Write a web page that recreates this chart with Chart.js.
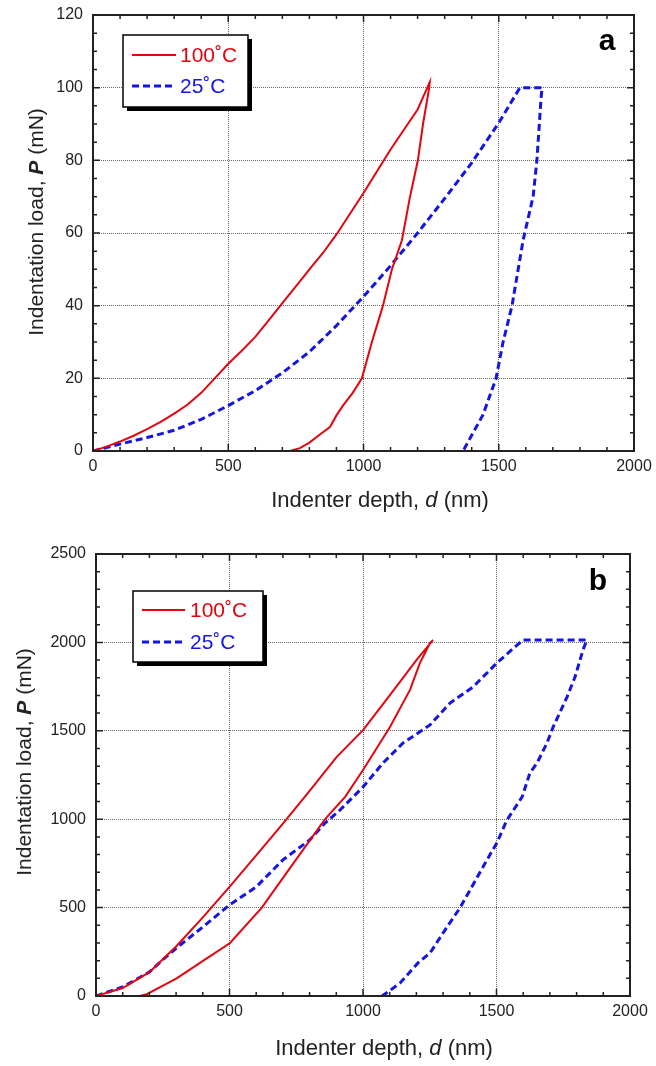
<!DOCTYPE html>
<html>
<head>
<meta charset="utf-8">
<script src="https://cdn.jsdelivr.net/npm/chart.js@4.4.0/dist/chart.umd.min.js"></script>
<style>
  body { margin: 0; background: #fff; }
  canvas { position: absolute; left: 0; }
</style>
</head>
<body>
<canvas id="chartA" width="656" height="520" style="top:0"></canvas>
<canvas id="chartB" width="656" height="546" style="top:520px"></canvas>
<script>
// panel a : depth (nm) and load (mN), loading then unloading
const depthA100 = [0, 50, 100, 150, 200, 250, 300, 350, 400, 450, 500, 550, 600, 650, 700, 750, 800, 850, 900, 950,
                   1000, 1050, 1100, 1150, 1200, 1245,
                   1243, 1220, 1201, 1172, 1142, 1105, 1072, 1031, 994, 960, 924, 900, 876, 840, 800, 765, 728];
const loadA100 = [0, 1.2, 2.6, 4.2, 6.0, 8.0, 10.3, 12.8, 16, 20, 24, 27.6, 31.4, 36, 40.7, 45.3, 50, 54.5, 59.6, 65.3,
                  71, 77, 83, 88.5, 94, 101.5,
                  100, 90, 80, 70, 58, 50, 40, 30, 20, 16, 12.5, 9.8, 6.6, 4.6, 2.3, 0.8, 0];
const depthA25 = [0, 100, 200, 300, 400, 500, 600, 700, 800, 900, 1000, 1100, 1200, 1300, 1400, 1500, 1550, 1578, 1660,
                  1656, 1641, 1627, 1590, 1549, 1516, 1490, 1442, 1405, 1368];
const loadA25 = [0, 1.9, 3.7, 5.7, 8.7, 12.5, 16.6, 21.5, 27.3, 34.5, 42.5, 51, 60, 69.5, 79.3, 90.3, 96.5, 100, 100,
                 96.7, 80, 70, 58, 40, 30, 20, 10, 5, 0];

// panel b
const depthB100 = [0, 100, 200, 300, 400, 500, 600, 700, 800, 900, 1000, 1100, 1200, 1262,
                   1251, 1213, 1176, 1101, 1000, 933, 858, 739, 621, 502, 402, 302, 240, 190, 165];
const loadB100 = [0, 45, 135, 280, 445, 617, 795, 975, 1160, 1350, 1504, 1700, 1900, 2013,
                  1997, 1883, 1731, 1522, 1278, 1126, 1000, 750, 500, 300, 200, 100, 50, 10, 0];
const depthB25 = [0, 100, 200, 250, 300, 400, 500, 600, 700, 800, 858, 914, 1000, 1075, 1150, 1251, 1326, 1412, 1501, 1577, 1599, 1838,
                  1824, 1794, 1764, 1712, 1689, 1652, 1625, 1596, 1539, 1501, 1464, 1401, 1363, 1307, 1251, 1206, 1139, 1094, 1071];
const loadB25 = [0, 51, 136, 205, 270, 390, 515, 617, 770, 882, 978, 1052, 1182, 1318, 1431, 1533, 1657, 1748, 1883, 1985, 2013, 2013,
                 1957, 1804, 1691, 1521, 1431, 1318, 1261, 1126, 995, 865, 769, 600, 498, 373, 243, 187, 74, 23, 0];

const seriesLabels = ['100\u02DAC', '25\u02DAC'];
const xTicks = [0, 500, 1000, 1500, 2000];

const FONT = "'Liberation Sans', Arial, sans-serif";
Chart.defaults.font.family = FONT;
Chart.defaults.color = '#222';

function toPoints(xs, ys) {
    return xs.map((x, i) => ({ x: x, y: ys[i] }));
}

// draw a line of text made of runs with different styles, centred on x
function drawRuns(ctx, runs, x, y) {
    let total = 0;
    runs.forEach(r => { ctx.font = r[1]; total += ctx.measureText(r[0]).width; });
    let cx = x - total / 2;
    runs.forEach(r => {
        ctx.font = r[1];
        ctx.fillText(r[0], cx, y);
        cx += ctx.measureText(r[0]).width;
    });
}

const framePlugin = {
    id: 'frame',
    afterDatasetsDraw(chart, args, o) {
        const { ctx, chartArea: a, scales: { x, y } } = chart;
        ctx.save();
        ctx.strokeStyle = '#222';
        ctx.lineWidth = 1.5;
        ctx.beginPath();
        for (let v = x.min; v <= x.max; v += o.xMinor) {
            const px = x.getPixelForValue(v);
            const len = v % o.xMajor === 0 ? 7 : 4;
            ctx.moveTo(px, a.bottom); ctx.lineTo(px, a.bottom - len);
            ctx.moveTo(px, a.top); ctx.lineTo(px, a.top + len);
        }
        for (let v = y.min; v <= y.max; v += o.yMinor) {
            const py = y.getPixelForValue(v);
            const len = v % o.yMajor === 0 ? 7 : 4;
            ctx.moveTo(a.left, py); ctx.lineTo(a.left + len, py);
            ctx.moveTo(a.right, py); ctx.lineTo(a.right - len, py);
        }
        ctx.stroke();
        ctx.lineWidth = 2;
        ctx.strokeRect(a.left, a.top, a.right - a.left, a.bottom - a.top);

        // legend box with shadow
        const L = o.legend;
        ctx.fillStyle = '#000';
        ctx.fillRect(L.x + 4, L.y + 4, L.w, L.h);
        ctx.fillStyle = '#fff';
        ctx.fillRect(L.x, L.y, L.w, L.h);
        ctx.lineWidth = 1.5;
        ctx.strokeStyle = '#000';
        ctx.strokeRect(L.x, L.y, L.w, L.h);
        chart.data.datasets.forEach((ds, i) => {
            const ry = L.rowY[i];
            ctx.strokeStyle = ds.borderColor;
            ctx.lineWidth = ds.borderWidth;
            ctx.setLineDash(ds.borderDash || []);
            ctx.beginPath();
            ctx.moveTo(L.lineX1, ry);
            ctx.lineTo(L.lineX2, ry);
            ctx.stroke();
            ctx.setLineDash([]);
            ctx.fillStyle = ds.borderColor;
            ctx.font = '21px ' + FONT;
            ctx.textBaseline = 'middle';
            ctx.textAlign = 'left';
            ctx.fillText(ds.label, L.textX, ry + 1);
        });

        // panel letter
        ctx.fillStyle = '#000';
        ctx.font = 'bold 30px ' + FONT;
        ctx.textAlign = 'center';
        ctx.textBaseline = 'alphabetic';
        ctx.fillText(o.letter.text, o.letter.x, o.letter.y);

        // axis titles
        ctx.fillStyle = '#222';
        ctx.textAlign = 'left';
        const xf = '22px ' + FONT;
        drawRuns(ctx, [['Indenter depth, ', xf], ['d', 'italic 22px ' + FONT], [' (nm)', xf]],
            o.xTitle.x, o.xTitle.y);
        const yf = '21px ' + FONT;
        ctx.save();
        ctx.translate(o.yTitle.x, o.yTitle.y);
        ctx.rotate(-Math.PI / 2);
        drawRuns(ctx, [['Indentation load, ', yf], ['P', 'italic bold 21px ' + FONT], [' (mN)', yf]], 0, 0);
        ctx.restore();
        ctx.restore();
    }
};

function makeChart(id, d100, p100, d25, p25, s) {
    return new Chart(document.getElementById(id), {
        type: 'scatter',
        data: {
            datasets: [{
                label: seriesLabels[0],
                data: toPoints(d100, p100),
                showLine: true,
                borderColor: '#e3060f',
                borderWidth: 2,
                pointRadius: 0
            }, {
                label: seriesLabels[1],
                data: toPoints(d25, p25),
                showLine: true,
                borderColor: '#1414e6',
                borderWidth: 3,
                borderDash: [7, 4],
                pointRadius: 0
            }]
        },
        options: {
            responsive: false,
            animation: false,
            layout: { padding: { left: 0, top: s.top, right: s.right, bottom: 0 } },
            plugins: {
                legend: { display: false },
                tooltip: { enabled: false },
                frame: s.frame
            },
            scales: {
                x: {
                    type: 'linear',
                    min: 0,
                    max: 2000,
                    afterBuildTicks: (scale) => { scale.ticks = xTicks.map(v => ({ value: v })); },
                    afterFit: (scale) => {
                        scale.height = s.xHeight;
                        scale.paddingLeft = 0;
                        scale.paddingRight = 0;
                    },
                    ticks: { font: { size: 16 }, padding: 6, color: '#222', maxRotation: 0,
                             callback: (v) => String(v) },
                    grid: { color: '#666', lineWidth: 1, drawTicks: false },
                    border: { display: false, dash: [1, 1] }
                },
                y: {
                    type: 'linear',
                    min: 0,
                    max: s.yMax,
                    ticks: { stepSize: s.yStep, font: { size: 16 }, padding: 10, color: '#222',
                             callback: (v) => String(v) },
                    afterFit: (scale) => {
                        scale.width = s.yWidth;
                        scale.paddingTop = 0;
                        scale.paddingBottom = 0;
                    },
                    grid: { color: '#666', lineWidth: 1, drawTicks: false },
                    border: { display: false, dash: [1, 1] }
                }
            }
        },
        plugins: [framePlugin]
    });
}

makeChart('chartA', depthA100, loadA100, depthA25, loadA25, {
    top: 15, right: 22, xHeight: 69, yWidth: 93, yMax: 120, yStep: 20,
    frame: {
        xMinor: 100, xMajor: 500, yMinor: 5, yMajor: 20,
        legend: { x: 123, y: 35, w: 125, h: 72, rowY: [55, 86], lineX1: 132, lineX2: 176, textX: 180 },
        letter: { text: 'a', x: 607, y: 50 },
        xTitle: { x: 380, y: 507 },
        yTitle: { x: 43, y: 222 }
    }
});

makeChart('chartB', depthB100, loadB100, depthB25, loadB25, {
    top: 34, right: 26, xHeight: 70, yWidth: 96, yMax: 2500, yStep: 500,
    frame: {
        xMinor: 100, xMajor: 500, yMinor: 100, yMajor: 500,
        legend: { x: 133, y: 71, w: 130, h: 71, rowY: [90, 122], lineX1: 142, lineX2: 185, textX: 190 },
        letter: { text: 'b', x: 598, y: 70 },
        xTitle: { x: 384, y: 535 },
        yTitle: { x: 31, y: 242 }
    }
});
</script>
</body>
</html>
